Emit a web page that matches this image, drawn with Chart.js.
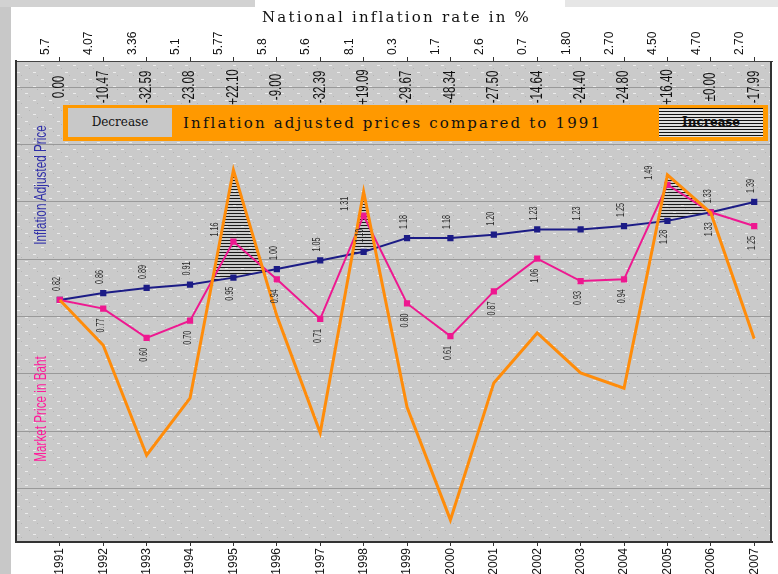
<!DOCTYPE html>
<html lang="en">
  <head>
    <meta charset="UTF-8" />
    <title>National inflation rate and prices</title>
    <style>
      * {
        box-sizing: border-box;
        margin: 0;
        padding: 0;
      }

      body {
        width: 778px;
        height: 574px;
        background: #fff;
        position: relative;
        overflow: hidden;
        font-family: "Liberation Sans", Arial, sans-serif;
      }

      .strip {
        position: absolute;
        background: #c8c8c8;
      }

      #chart {
        position: absolute;
        left: 0;
        top: 0;
      }

      .title {
        position: absolute;
        left: 262px;
        top: 8px;
        font-family: "DejaVu Serif", serif;
        font-size: 15px;
        letter-spacing: 2.2px;
        color: #111;
      }

      .legend-box {
        position: absolute;
        left: 63px;
        top: 105px;
        width: 705px;
        height: 36px;
        background: #ff9900;
      }

      .legend-box .cell {
        position: absolute;
        top: 3px;
        width: 104px;
        height: 29px;
        line-height: 29px;
        text-align: center;
        font-family: "DejaVu Serif", serif;
        font-size: 12px;
        color: #111;
      }

      .decrease {
        left: 5px;
        background: #c8c8c8;
      }

      .increase {
        left: 596px;
        background: repeating-linear-gradient(
          to bottom,
          #111 0px,
          #111 1px,
          #e0e0e0 1px,
          #e0e0e0 3px
        );
        font-weight: bold;
      }

      .legend-text {
        position: absolute;
        left: 120px;
        top: 9px;
        font-family: "DejaVu Serif", serif;
        font-size: 15px;
        letter-spacing: 2.15px;
        color: #111;
      }

      .axis-title {
        position: absolute;
        font-size: 17px;
        white-space: nowrap;
        transform: translate(-50%, -50%) rotate(-90deg) scaleX(0.69);
      }
    </style>
    <script src="https://cdn.jsdelivr.net/npm/chart.js"></script>
  </head>
  <body>
    <div class="strip" style="left: 0; top: 0; width: 11px; height: 574px"></div>
    <div class="strip" style="left: 0; top: 0; width: 255px; height: 7px; background: #d2d2d2"></div>
    <div class="strip" style="left: 565px; top: 0; width: 213px; height: 7px; background: #e6e6e6"></div>

    <canvas id="chart" width="778" height="574"></canvas>

    <div class="title">National inflation rate in %</div>

    <div class="legend-box">
      <div class="cell decrease">Decrease</div>
      <div class="legend-text">Inflation adjusted prices compared to 1991</div>
      <div class="cell increase">Increase</div>
    </div>

    <div class="axis-title" style="left: 41px; top: 185px; color: #2e2ea8">Inflation Adjusted Price</div>
    <div class="axis-title" style="left: 41px; top: 409px; color: #ff1a9a">Market Price in Baht</div>

    <script>
      const years = [
        1991, 1992, 1993, 1994, 1995, 1996, 1997, 1998, 1999, 2000, 2001,
        2002, 2003, 2004, 2005, 2006, 2007,
      ];

      // top row: national inflation rate in %
      const inflationRate = [
        "5.7", "4.07", "3.36", "5.1", "5.77", "5.8", "5.6", "8.1", "0.3",
        "1.7", "2.6", "0.7", "1.80", "2.70", "4.50", "4.70", "2.70",
      ];

      // second row: market price vs adjusted price in %
      const priceChange = [
        "0.00", "-10.47", "-32.59", "-23.08", "+22.10", "-9.00", "-32.39",
        "+19.09", "-29.67", "-48.34", "-27.50", "-14.64", "-24.40", "-24.80",
        "+16.40", "\u00b10.00", "-17.99",
      ];

      const adjustedPrice = [
        0.82, 0.86, 0.89, 0.91, 0.95, 1.0, 1.05, 1.1, 1.18, 1.18, 1.2, 1.23,
        1.23, 1.25, 1.28, 1.33, 1.39,
      ];

      const marketPrice = [
        0.82, 0.77, 0.6, 0.7, 1.16, 0.94, 0.71, 1.31, 0.8, 0.61, 0.87, 1.06,
        0.93, 0.94, 1.49, 1.33, 1.25,
      ];

      // orange line (percent scale)
      const priceGap = [
        0, -7.7, -26.4, -16.7, 22.1, -2.7, -22.6, 18.4, -18.2, -37.4, -14.1,
        -5.6, -12.4, -15.0, 21.3, 14.8, -6.6,
      ];

      const toPoints = (vals) => years.map((yr, i) => ({ x: yr, y: vals[i] }));

      // the narrow face may not be installed, so check before using it
      function hasFont(name) {
        const g = document.createElement("canvas").getContext("2d");
        const s = "Inflation 1991 -10.47";
        g.font = "40px monospace";
        const a = g.measureText(s).width;
        g.font = '40px "' + name + '", monospace';
        return g.measureText(s).width !== a;
      }

      const sans = '"Liberation Sans", Arial, sans-serif';
      const narrowOk = hasFont("Liberation Sans Narrow");
      const tickFamily = narrowOk ? '"Liberation Sans Narrow", sans-serif' : sans;
      const yearSize = narrowOk ? 13 : 12;
      const rateSize = narrowOk ? 14 : 12;

      function makeHatch() {
        const c = document.createElement("canvas");
        c.width = 4;
        c.height = 3;
        const g = c.getContext("2d");
        g.fillStyle = "#1a1a1a";
        g.fillRect(0, 0, 4, 1);
        return g.createPattern(c, "repeat");
      }

      function makeDots() {
        const c = document.createElement("canvas");
        c.width = 16;
        c.height = 14;
        const g = c.getContext("2d");
        g.fillStyle = "#cacaca";
        g.fillRect(0, 0, 16, 14);
        g.fillStyle = "#ececec";
        g.fillRect(1, 2, 3, 1);
        g.fillRect(9, 9, 3, 1);
        g.fillStyle = "#b4b4b4";
        g.fillRect(5, 5, 1, 1);
        g.fillRect(13, 12, 1, 1);
        return g.createPattern(c, "repeat");
      }

      const plotBackground = {
        id: "plotBackground",
        beforeDraw(chart) {
          const { ctx, chartArea: a } = chart;
          ctx.save();
          ctx.fillStyle = makeDots();
          ctx.fillRect(a.left, a.top, a.right - a.left, a.bottom - a.top);
          ctx.restore();
        },
        afterDatasetsDraw(chart) {
          const { ctx, chartArea: a } = chart;
          ctx.save();
          ctx.strokeStyle = "#333";
          ctx.lineWidth = 2;
          ctx.beginPath();
          ctx.moveTo(a.right - 1, a.top);
          ctx.lineTo(a.right - 1, a.bottom);
          ctx.stroke();
          ctx.restore();
        },
      };

      // upright text turned a quarter left, squeezed along its length
      function rotatedText(ctx, text, x, y, squeeze) {
        ctx.save();
        ctx.translate(x, y);
        ctx.rotate(-Math.PI / 2);
        ctx.scale(squeeze, 1);
        ctx.fillText(text, 0, 0);
        ctx.restore();
      }

      const valueLabels = {
        id: "valueLabels",
        afterDatasetsDraw(chart) {
          const { ctx } = chart;
          const xs = chart.scales.x;
          ctx.save();
          ctx.textAlign = "center";
          ctx.textBaseline = "middle";

          ctx.fillStyle = "#111";
          ctx.font = "16px " + sans;
          years.forEach((yr, i) => {
            rotatedText(ctx, priceChange[i], xs.getPixelForValue(yr), 87, 0.72);
          });

          ctx.fillStyle = "#2a2a2a";
          ctx.font = "10px " + sans;
          const blueBelow = [1995, 2005];
          const pinkAbove = [1995, 1998, 2005];
          chart.getDatasetMeta(2).data.forEach((pt, i) => {
            const dy = blueBelow.includes(years[i]) ? 16 : -16;
            rotatedText(ctx, adjustedPrice[i].toFixed(2), pt.x - 3, pt.y + dy, 0.72);
          });
          chart.getDatasetMeta(1).data.forEach((pt, i) => {
            if (i === 0) return;
            const txt = marketPrice[i].toFixed(2);
            if (pinkAbove.includes(years[i])) {
              rotatedText(ctx, txt, pt.x - 18, pt.y - 12, 0.72);
            } else {
              rotatedText(ctx, txt, pt.x - 2, pt.y + 17, 0.72);
            }
          });
          ctx.restore();
        },
      };

      const yearTicks = (scale) => {
        scale.ticks = years.map((v) => ({ value: v }));
      };

      new Chart(document.getElementById("chart"), {
        type: "line",
        data: {
          datasets: [
            {
              label: "Price gap",
              data: toPoints(priceGap),
              yAxisID: "yPct",
              borderColor: "#ff8c0a",
              borderWidth: 3,
              pointRadius: 0,
              fill: { target: 2, above: makeHatch(), below: "rgba(0,0,0,0)" },
            },
            {
              label: "Market Price in Baht",
              data: toPoints(marketPrice),
              yAxisID: "yPrice",
              borderColor: "#ee1890",
              backgroundColor: "#ee1890",
              borderWidth: 2,
              pointStyle: "rect",
              pointRadius: 3,
            },
            {
              label: "Inflation Adjusted Price",
              data: toPoints(adjustedPrice),
              yAxisID: "yPrice",
              borderColor: "#1c1c86",
              backgroundColor: "#1c1c86",
              borderWidth: 2,
              pointStyle: "rect",
              pointRadius: 3,
            },
          ],
        },
        options: {
          responsive: false,
          animation: false,
          layout: { padding: { left: 16, right: 3, top: 21, bottom: 0 } },
          plugins: {
            legend: { display: false },
            tooltip: { enabled: false },
            filler: { drawTime: "beforeDatasetsDraw" },
          },
          scales: {
            x: {
              type: "linear",
              position: "bottom",
              min: 1989.99,
              max: 2007.41,
              afterBuildTicks: yearTicks,
              afterFit: (s) => {
                s.height = 32;
              },
              ticks: {
                autoSkip: false,
                minRotation: 90,
                maxRotation: 90,
                padding: 2,
                color: "#111",
                font: { family: tickFamily, size: yearSize },
                callback: (v) => String(v),
              },
              grid: {
                drawOnChartArea: false,
                tickLength: 4,
                tickColor: "#333",
              },
              border: { color: "#333", width: 2 },
            },
            xTop: {
              type: "linear",
              position: "top",
              min: 1989.99,
              max: 2007.41,
              afterBuildTicks: yearTicks,
              afterFit: (s) => {
                s.height = 40;
              },
              ticks: {
                autoSkip: false,
                minRotation: 90,
                maxRotation: 90,
                padding: 2,
                color: "#111",
                font: { family: tickFamily, size: rateSize },
                callback: (v) => inflationRate[years.indexOf(v)],
              },
              grid: {
                drawOnChartArea: false,
                tickLength: 4,
                tickColor: "#333",
              },
              border: { color: "#444", width: 1, dash: [2, 2] },
            },
            yPrice: { display: false, min: -0.587, max: 2.2095 },
            yPct: { display: false, min: -41.16, max: 40.65 },
            yGrid: {
              position: "left",
              min: 0.073,
              max: 8.453,
              afterBuildTicks: (s) => {
                s.ticks = [1, 2, 3, 4, 5, 6, 7, 8].map((v) => ({ value: v }));
              },
              afterFit: (s) => {
                s.width = 0;
              },
              ticks: { display: false },
              grid: { color: "#999", drawTicks: false },
              border: { color: "#333", width: 2 },
            },
          },
        },
        plugins: [plotBackground, valueLabels],
      });
    </script>
  </body>
</html>
